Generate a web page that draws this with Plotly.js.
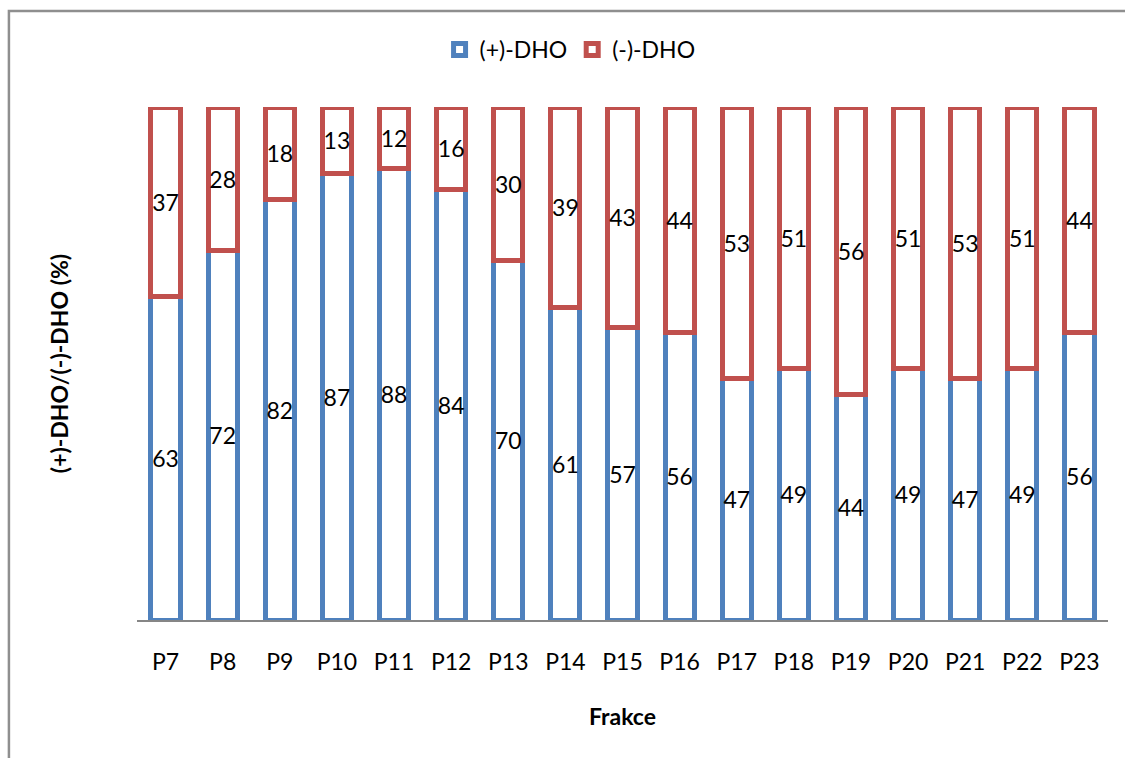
<!DOCTYPE html>
<html>
<head>
<meta charset="utf-8">
<script src="https://cdn.plot.ly/plotly-3.0.1.min.js"></script>
<style>
  html, body { margin: 0; padding: 0; background: #ffffff; }
  #chart { width: 1125px; height: 758px; }
</style>
</head>
<body>
<div id="chart"></div>
<script>
const categories = ["P7","P8","P9","P10","P11","P12","P13","P14","P15","P16","P17","P18","P19","P20","P21","P22","P23"];
const plusDHO  = [63,72,82,87,88,84,70,61,57,56,47,49,44,49,47,49,56];
const minusDHO = [37,28,18,13,12,16,30,39,43,44,53,51,56,51,53,51,44];
const seriesNames = ["(+)-DHO", "(-)-DHO"];

const FONT = "Lato, 'Open Sans', 'DejaVu Sans', sans-serif";
const BLUE = "#4F81BD";
const RED = "#C0504D";

function barTrace(name, values, color) {
  return {
    type: "bar",
    name: name,
    x: categories,
    y: values,
    text: values.map(String),
    texttemplate: "%{text}",
    textposition: "inside",
    insidetextanchor: "middle",
    textangle: 0,
    constraintext: "none",
    textfont: { family: FONT, size: 23, color: "#000000" },
    marker: { color: "#ffffff", line: { color: color, width: 5 } },
    hoverinfo: "x+y+name"
  };
}

const data = [
  barTrace(seriesNames[0], plusDHO, BLUE),
  barTrace(seriesNames[1], minusDHO, RED)
];

const layout = {
  width: 1125,
  height: 758,
  margin: { l: 137, r: 17, t: 107, b: 138 },
  paper_bgcolor: "#ffffff",
  plot_bgcolor: "#ffffff",
  barmode: "stack",
  bargap: 0.49,
  uniformtext: { minsize: 23, mode: "show" },
  font: { family: FONT, size: 23, color: "#000000" },
  showlegend: true,
  legend: {
    orientation: "h",
    traceorder: "normal",
    x: 0.446, xanchor: "center",
    y: 1.112, yanchor: "middle",
    font: { family: FONT, size: 23, color: "#000000" },
    bgcolor: "rgba(0,0,0,0)",
    itemclick: false
  },
  xaxis: {
    type: "category",
    showline: true,
    linecolor: "#868686",
    linewidth: 1.5,
    ticks: "",
    ticklabelstandoff: 21,
    tickfont: { family: FONT, size: 23, color: "#000000" },
    showgrid: false,
    zeroline: false,
    title: { text: "Frakce", font: { family: FONT, size: 23, color: "#000000", weight: "bold" }, standoff: 35 },
    automargin: false
  },
  yaxis: {
    range: [0, 100],
    showticklabels: false,
    ticks: "",
    showgrid: false,
    zeroline: false,
    showline: false,
    title: { text: "(+)-DHO/(-)-DHO (%)", font: { family: FONT, size: 23, color: "#000000", weight: "bold" }, standoff: 60 },
    automargin: false
  },
  shapes: [{
    type: "rect",
    xref: "paper", yref: "paper",
    x0: -0.1319, x1: 1.03,
    y0: -0.29, y1: 1.187,
    line: { color: "#8f8f8f", width: 2.5 },
    fillcolor: "rgba(0,0,0,0)",
    layer: "below"
  }]
};

Plotly.newPlot("chart", data, layout, { displayModeBar: false, staticPlot: true });
</script>
</body>
</html>
